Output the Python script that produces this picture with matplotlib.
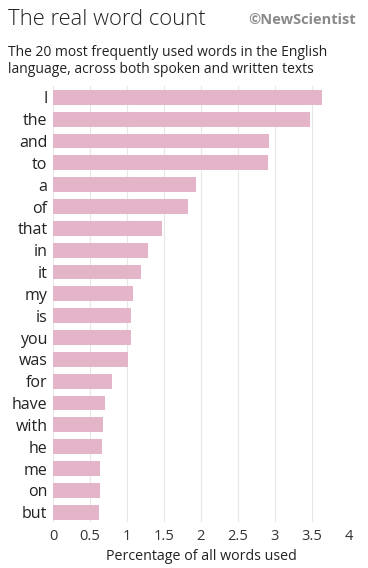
import matplotlib.pyplot as plt

words = ["I", "the", "and", "to", "a", "of", "that", "in", "it", "my",
         "is", "you", "was", "for", "have", "with", "he", "me", "on", "but"]
pct = [3.64, 3.48, 2.92, 2.91, 1.94, 1.82, 1.48, 1.28, 1.19, 1.08,
       1.06, 1.05, 1.01, 0.80, 0.70, 0.67, 0.66, 0.64, 0.63, 0.62]
xticks = [0, 0.5, 1, 1.5, 2, 2.5, 3, 3.5, 4]
xticklabels = ["0", "0.5", "1", "1.5", "2", "2.5", "3", "3.5", "4"]

plt.rcParams['font.family'] = ['Open Sans', 'DejaVu Sans']

fig = plt.figure(figsize=(3.68, 5.68), dpi=100)
ax = fig.add_axes([0.144, 0.081, 0.804, 0.768])

ax.barh(range(len(words)), pct, height=0.68, color='#e4b5c8', zorder=2)

ax.set_xlim(0, 4)
ax.set_ylim(19.45, -0.53)
ax.set_xticks(xticks)
ax.set_xticklabels(xticklabels, fontsize=10.5, color='#333333')
ax.set_yticks(range(len(words)))
ax.set_yticklabels(words, fontsize=11.5, color='#222222')
ax.tick_params(axis='both', length=0, pad=4)
ax.tick_params(axis='x', pad=5)
ax.grid(axis='x', color='#e6e6e6', linewidth=0.8, zorder=0)
for s in ax.spines.values():
    s.set_visible(False)
ax.set_xlabel("Percentage of all words used", fontsize=10.3, color='#222222', labelpad=4)

fig.text(0.022, 0.966, "The real word count", fontsize=15.8, fontweight='light',
         color='#222222', va='center')
fig.text(0.968, 0.965, "\u00a9NewScientist", fontsize=10.5, fontweight='bold',
         color='#8a8a8a', va='center', ha='right')
fig.text(0.022, 0.892, "The 20 most frequently used words in the English\nlanguage, across both spoken and written texts",
         fontsize=10, color='#222222', va='center', linespacing=1.2)

fig.savefig("out.png", dpi=100)
